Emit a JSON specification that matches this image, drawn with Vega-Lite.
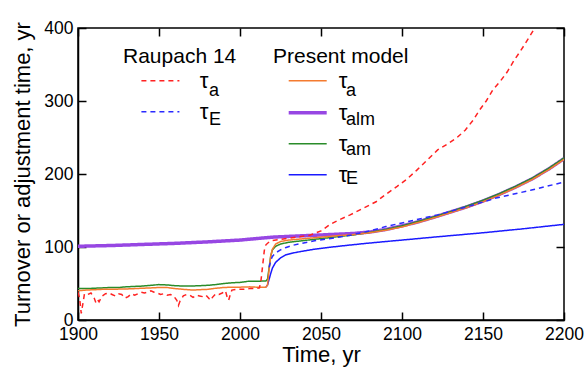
{
  "$schema": "https://vega.github.io/schema/vega-lite/v6.json",
  "width": 486,
  "height": 292,
  "autosize": {"type": "none"},
  "padding": {"left": 78, "top": 28, "right": 21, "bottom": 47},
  "background": "white",
  "config": {
    "font": "Liberation Sans",
    "view": {"stroke": "black", "strokeWidth": 1.5},
    "axis": {
      "domainColor": "black", "domainWidth": 1.5,
      "tickColor": "black", "tickWidth": 1.5, "tickSize": -8,
      "labelFont": "Liberation Sans", "labelFontSize": 17.5, "labelColor": "black", "labelPadding": 13,
      "labelFlush": false, "labelOverlap": false,
      "titleFont": "Liberation Sans", "titleFontSize": 22, "titleFontWeight": "normal", "titleColor": "black",
      "grid": false
    },
    "legend": {
      "orient": "none", "direction": "vertical", "padding": 0,
      "titleFont": "Liberation Sans", "titleFontWeight": "normal", "titleColor": "black", "titleFontSize": 21,
      "labelFont": "Liberation Sans", "labelColor": "black", "symbolType": "stroke"
    }
  },
  "datasets": {
    "present": [
      {"t":1900,"v":101,"s":"P2"},{"t":1920,"v":102,"s":"P2"},{"t":1940,"v":103.5,"s":"P2"},{"t":1960,"v":105,"s":"P2"},{"t":1980,"v":107,"s":"P2"},{"t":2000,"v":109.5,"s":"P2"},{"t":2010,"v":111.5,"s":"P2"},{"t":2020,"v":113.5,"s":"P2"},{"t":2030,"v":114.5,"s":"P2"},{"t":2040,"v":115.5,"s":"P2"},{"t":2050,"v":116.5,"s":"P2"},{"t":2060,"v":117.5,"s":"P2"},{"t":2070,"v":118.5,"s":"P2"},{"t":2080,"v":120.5,"s":"P2"},{"t":2090,"v":124,"s":"P2"},{"t":2100,"v":129,"s":"P2"},{"t":2110,"v":134.5,"s":"P2"},{"t":2120,"v":141,"s":"P2"},{"t":2130,"v":148,"s":"P2"},{"t":2140,"v":155,"s":"P2"},{"t":2150,"v":163,"s":"P2"},{"t":2160,"v":172,"s":"P2"},{"t":2170,"v":182,"s":"P2"},{"t":2180,"v":193,"s":"P2"},{"t":2190,"v":206,"s":"P2"},{"t":2200,"v":221,"s":"P2"},
      {"t":2016,"v":45,"s":"P4"},{"t":2017,"v":48,"s":"P4"},{"t":2018,"v":56,"s":"P4"},{"t":2019,"v":64,"s":"P4"},{"t":2020,"v":71,"s":"P4"},{"t":2022,"v":79,"s":"P4"},{"t":2025,"v":85,"s":"P4"},{"t":2028,"v":89,"s":"P4"},{"t":2032,"v":91.5,"s":"P4"},{"t":2038,"v":94,"s":"P4"},{"t":2046,"v":97,"s":"P4"},{"t":2055,"v":99.5,"s":"P4"},{"t":2065,"v":102,"s":"P4"},{"t":2078,"v":105,"s":"P4"},{"t":2090,"v":107.5,"s":"P4"},{"t":2100,"v":109.5,"s":"P4"},{"t":2122,"v":114,"s":"P4"},{"t":2150,"v":119.5,"s":"P4"},{"t":2175,"v":125,"s":"P4"},{"t":2200,"v":131,"s":"P4"},
      {"t":1900,"v":43,"s":"P3"},{"t":1905,"v":43,"s":"P3"},{"t":1910,"v":43.5,"s":"P3"},{"t":1915,"v":44,"s":"P3"},{"t":1920,"v":44.5,"s":"P3"},{"t":1925,"v":44.5,"s":"P3"},{"t":1930,"v":45.5,"s":"P3"},{"t":1940,"v":46.5,"s":"P3"},{"t":1950,"v":48.5,"s":"P3"},{"t":1955,"v":48,"s":"P3"},{"t":1960,"v":47,"s":"P3"},{"t":1965,"v":46.5,"s":"P3"},{"t":1970,"v":46.5,"s":"P3"},{"t":1980,"v":47.5,"s":"P3"},{"t":1985,"v":48.5,"s":"P3"},{"t":1990,"v":50,"s":"P3"},{"t":1995,"v":51,"s":"P3"},{"t":2000,"v":51.5,"s":"P3"},{"t":2005,"v":53,"s":"P3"},{"t":2010,"v":53,"s":"P3"},{"t":2016,"v":53.5,"s":"P3"},{"t":2017,"v":56,"s":"P3"},{"t":2018,"v":72,"s":"P3"},{"t":2019,"v":88,"s":"P3"},{"t":2020,"v":96,"s":"P3"},{"t":2022,"v":101,"s":"P3"},{"t":2025,"v":104,"s":"P3"},{"t":2030,"v":106.5,"s":"P3"},{"t":2040,"v":109,"s":"P3"},{"t":2050,"v":111.5,"s":"P3"},{"t":2060,"v":114,"s":"P3"},{"t":2070,"v":116.5,"s":"P3"},{"t":2080,"v":120,"s":"P3"},{"t":2090,"v":124,"s":"P3"},{"t":2100,"v":129,"s":"P3"},{"t":2110,"v":135,"s":"P3"},{"t":2120,"v":141.5,"s":"P3"},{"t":2130,"v":148.5,"s":"P3"},{"t":2140,"v":156,"s":"P3"},{"t":2150,"v":164,"s":"P3"},{"t":2160,"v":173,"s":"P3"},{"t":2170,"v":183,"s":"P3"},{"t":2180,"v":194,"s":"P3"},{"t":2190,"v":207,"s":"P3"},{"t":2200,"v":222,"s":"P3"},
      {"t":1900,"v":40,"s":"P1"},{"t":1905,"v":41,"s":"P1"},{"t":1910,"v":41.5,"s":"P1"},{"t":1915,"v":42,"s":"P1"},{"t":1920,"v":42,"s":"P1"},{"t":1925,"v":42.3,"s":"P1"},{"t":1930,"v":42.5,"s":"P1"},{"t":1940,"v":43.5,"s":"P1"},{"t":1950,"v":44.5,"s":"P1"},{"t":1955,"v":44.5,"s":"P1"},{"t":1960,"v":43,"s":"P1"},{"t":1965,"v":42,"s":"P1"},{"t":1971,"v":41,"s":"P1"},{"t":1975,"v":41.5,"s":"P1"},{"t":1980,"v":42,"s":"P1"},{"t":1985,"v":43.5,"s":"P1"},{"t":1990,"v":44.5,"s":"P1"},{"t":1995,"v":45,"s":"P1"},{"t":2000,"v":45,"s":"P1"},{"t":2006,"v":45.4,"s":"P1"},{"t":2010,"v":45,"s":"P1"},{"t":2016,"v":45,"s":"P1"},{"t":2017,"v":48,"s":"P1"},{"t":2018,"v":70,"s":"P1"},{"t":2019,"v":88,"s":"P1"},{"t":2020,"v":97,"s":"P1"},{"t":2022,"v":104,"s":"P1"},{"t":2025,"v":107.5,"s":"P1"},{"t":2030,"v":109.5,"s":"P1"},{"t":2040,"v":111.5,"s":"P1"},{"t":2050,"v":113.5,"s":"P1"},{"t":2060,"v":115.5,"s":"P1"},{"t":2070,"v":117,"s":"P1"},{"t":2080,"v":119.5,"s":"P1"},{"t":2090,"v":123,"s":"P1"},{"t":2100,"v":127.5,"s":"P1"},{"t":2110,"v":133.5,"s":"P1"},{"t":2120,"v":140,"s":"P1"},{"t":2130,"v":147,"s":"P1"},{"t":2140,"v":154,"s":"P1"},{"t":2150,"v":162,"s":"P1"},{"t":2160,"v":171,"s":"P1"},{"t":2170,"v":181,"s":"P1"},{"t":2180,"v":192,"s":"P1"},{"t":2190,"v":205,"s":"P1"},{"t":2200,"v":220,"s":"P1"}
    ],
    "raupach": [
      {"t":1900,"v":38,"s":"R1"},{"t":1901,"v":30,"s":"R1"},{"t":1902,"v":9,"s":"R1"},{"t":1903,"v":22,"s":"R1"},{"t":1904,"v":36,"s":"R1"},{"t":1906,"v":35,"s":"R1"},{"t":1908,"v":37,"s":"R1"},{"t":1910,"v":30,"s":"R1"},{"t":1911,"v":24,"s":"R1"},{"t":1912,"v":28,"s":"R1"},{"t":1913,"v":25,"s":"R1"},{"t":1915,"v":33,"s":"R1"},{"t":1917,"v":36,"s":"R1"},{"t":1919,"v":37,"s":"R1"},{"t":1921,"v":35,"s":"R1"},{"t":1923,"v":33,"s":"R1"},{"t":1925,"v":36,"s":"R1"},{"t":1927,"v":35,"s":"R1"},{"t":1929,"v":30,"s":"R1"},{"t":1931,"v":32,"s":"R1"},{"t":1933,"v":36,"s":"R1"},{"t":1935,"v":34,"s":"R1"},{"t":1937,"v":36,"s":"R1"},{"t":1939,"v":38,"s":"R1"},{"t":1941,"v":37,"s":"R1"},{"t":1943,"v":38,"s":"R1"},{"t":1945,"v":40,"s":"R1"},{"t":1947,"v":38,"s":"R1"},{"t":1949,"v":37,"s":"R1"},{"t":1951,"v":35,"s":"R1"},{"t":1953,"v":36,"s":"R1"},{"t":1955,"v":34,"s":"R1"},{"t":1957,"v":35,"s":"R1"},{"t":1959,"v":33,"s":"R1"},{"t":1961,"v":27,"s":"R1"},{"t":1962,"v":20,"s":"R1"},{"t":1963,"v":26,"s":"R1"},{"t":1965,"v":33,"s":"R1"},{"t":1967,"v":35,"s":"R1"},{"t":1969,"v":34,"s":"R1"},{"t":1971,"v":31,"s":"R1"},{"t":1973,"v":34,"s":"R1"},{"t":1975,"v":33,"s":"R1"},{"t":1977,"v":32,"s":"R1"},{"t":1979,"v":34,"s":"R1"},{"t":1981,"v":29,"s":"R1"},{"t":1982,"v":27,"s":"R1"},{"t":1983,"v":31,"s":"R1"},{"t":1985,"v":36,"s":"R1"},{"t":1987,"v":35,"s":"R1"},{"t":1989,"v":37,"s":"R1"},{"t":1991,"v":40,"s":"R1"},{"t":1992,"v":32,"s":"R1"},{"t":1993,"v":27,"s":"R1"},{"t":1994,"v":35,"s":"R1"},{"t":1995,"v":41,"s":"R1"},{"t":1998,"v":42,"s":"R1"},{"t":2002,"v":42,"s":"R1"},{"t":2006,"v":43,"s":"R1"},{"t":2010,"v":43,"s":"R1"},{"t":2012,"v":44,"s":"R1"},{"t":2013,"v":55,"s":"R1"},{"t":2014,"v":75,"s":"R1"},{"t":2015,"v":95,"s":"R1"},{"t":2016,"v":103,"s":"R1"},{"t":2018,"v":107,"s":"R1"},{"t":2020,"v":109,"s":"R1"},{"t":2024,"v":110,"s":"R1"},{"t":2030,"v":112,"s":"R1"},{"t":2036,"v":114,"s":"R1"},{"t":2043,"v":116,"s":"R1"},{"t":2050,"v":122,"s":"R1"},{"t":2055,"v":130,"s":"R1"},{"t":2060,"v":136,"s":"R1"},{"t":2068,"v":144,"s":"R1"},{"t":2076,"v":153,"s":"R1"},{"t":2084,"v":162,"s":"R1"},{"t":2090,"v":172,"s":"R1"},{"t":2097,"v":183,"s":"R1"},{"t":2103,"v":193,"s":"R1"},{"t":2109,"v":205,"s":"R1"},{"t":2115,"v":218,"s":"R1"},{"t":2122,"v":233,"s":"R1"},{"t":2128,"v":241,"s":"R1"},{"t":2134,"v":250,"s":"R1"},{"t":2139,"v":260,"s":"R1"},{"t":2144,"v":274,"s":"R1"},{"t":2148,"v":288,"s":"R1"},{"t":2152,"v":300,"s":"R1"},{"t":2156,"v":315,"s":"R1"},{"t":2161,"v":328,"s":"R1"},{"t":2165,"v":340,"s":"R1"},{"t":2169,"v":355,"s":"R1"},{"t":2173,"v":368,"s":"R1"},{"t":2177,"v":382,"s":"R1"},{"t":2182,"v":400,"s":"R1"},{"t":2186,"v":415,"s":"R1"},
      {"t":2018,"v":72,"s":"R2"},{"t":2019,"v":82,"s":"R2"},{"t":2020,"v":87,"s":"R2"},{"t":2022,"v":92,"s":"R2"},{"t":2025,"v":96,"s":"R2"},{"t":2028,"v":99,"s":"R2"},{"t":2033,"v":102.5,"s":"R2"},{"t":2038,"v":105,"s":"R2"},{"t":2046,"v":108.5,"s":"R2"},{"t":2057,"v":112,"s":"R2"},{"t":2070,"v":117,"s":"R2"},{"t":2080,"v":122,"s":"R2"},{"t":2090,"v":128,"s":"R2"},{"t":2100,"v":133,"s":"R2"},{"t":2110,"v":138,"s":"R2"},{"t":2122,"v":144,"s":"R2"},{"t":2140,"v":155,"s":"R2"},{"t":2158,"v":167,"s":"R2"},{"t":2180,"v":178,"s":"R2"},{"t":2200,"v":189,"s":"R2"}
    ]
  },
  "layer": [
    {
      "data": {"name": "present"},
      "mark": {"type": "line", "clip": true},
      "encoding": {
        "x": {"field": "t", "type": "quantitative", "scale": {"domain": [1900, 2200], "nice": false},
              "axis": {"orient": "top", "labels": false, "title": null, "domain": false, "values": [1900,1950,2000,2050,2100,2150,2200]}},
        "y": {"field": "v", "type": "quantitative", "scale": {"domain": [0, 400], "nice": false},
              "axis": {"orient": "right", "labels": false, "title": null, "domain": false, "values": [0,100,200,300,400]}},
        "color": {"field": "s", "type": "nominal",
                  "scale": {"domain": ["P1","P2","P3","P4"], "range": ["#f47b2f","#9747e3","#2a8c2a","#1a1aff"]},
                  "legend": {"title": "Present model", "legendX": 195, "legendY": 18, "titlePadding": -6.3,
                             "labelExpr": "datum.value == 'P4' ? '\u00a0τ' : 'τ'", "labelFontSize": 22,
                             "symbolSize": 1444, "symbolOffset": 13.7, "labelOffset": 10, "rowPadding": -2.4}},
        "strokeWidth": {"field": "s", "type": "nominal",
                        "scale": {"type": "ordinal", "domain": ["P1","P2","P3","P4"], "range": [1.5, 3.5, 1.5, 1.5]}},
        "strokeDash": {"field": "s", "type": "nominal",
                       "scale": {"range": [[1,0],[1,0],[1,0],[1,0]]},
                       "legend": {"title": null, "legendX": 250, "legendY": 54,
                                  "labelExpr": "datum.value == 'P1' ? 'a' : datum.value == 'P2' ? 'alm' : datum.value == 'P3' ? 'am' : '\u00a0E'",
                                  "labelFontSize": 18, "symbolOpacity": 0, "symbolSize": 1, "labelOffset": 0, "rowPadding": 11.3}}
      }
    },
    {
      "data": {"name": "raupach"},
      "mark": {"type": "line", "clip": true, "strokeWidth": 1.5},
      "encoding": {
        "x": {"field": "t", "type": "quantitative", "scale": {"domain": [1900, 2200], "nice": false},
              "axis": {"orient": "bottom", "format": "d", "title": "Time, yr", "titlePadding": 1.5, "values": [1900,1950,2000,2050,2100,2150,2200]}},
        "y": {"field": "v", "type": "quantitative", "scale": {"domain": [0, 400], "nice": false},
              "axis": {"orient": "left", "title": "Turnover or adjustment time, yr", "titlePadding": 9, "values": [0,100,200,300,400]}},
        "color": {"field": "s", "type": "nominal",
                  "scale": {"domain": ["R1","R2"], "range": ["#ff2222","#2a2aff"]},
                  "legend": {"title": "Raupach 14", "legendX": 45, "legendY": 18, "titlePadding": -6.3,
                             "labelExpr": "'τ'", "labelFontSize": 22,
                             "symbolSize": 1444, "symbolDash": [5, 4], "symbolStrokeWidth": 1.5, "symbolOffset": 17.4, "labelOffset": 19.3, "rowPadding": -3.1}},
        "strokeDash": {"field": "s", "type": "nominal",
                       "scale": {"range": [[5,4],[5,4]]},
                       "legend": {"title": null, "legendX": 113, "legendY": 54,
                                  "labelExpr": "datum.value == 'R1' ? 'a' : 'E'",
                                  "labelFontSize": 18, "symbolOpacity": 0, "symbolSize": 1, "labelOffset": 0, "rowPadding": 11.4}}
      }
    }
  ],
  "resolve": {
    "scale": {"color": "independent", "strokeDash": "independent", "strokeWidth": "independent"},
    "axis": {"x": "independent", "y": "independent"}
  }
}
